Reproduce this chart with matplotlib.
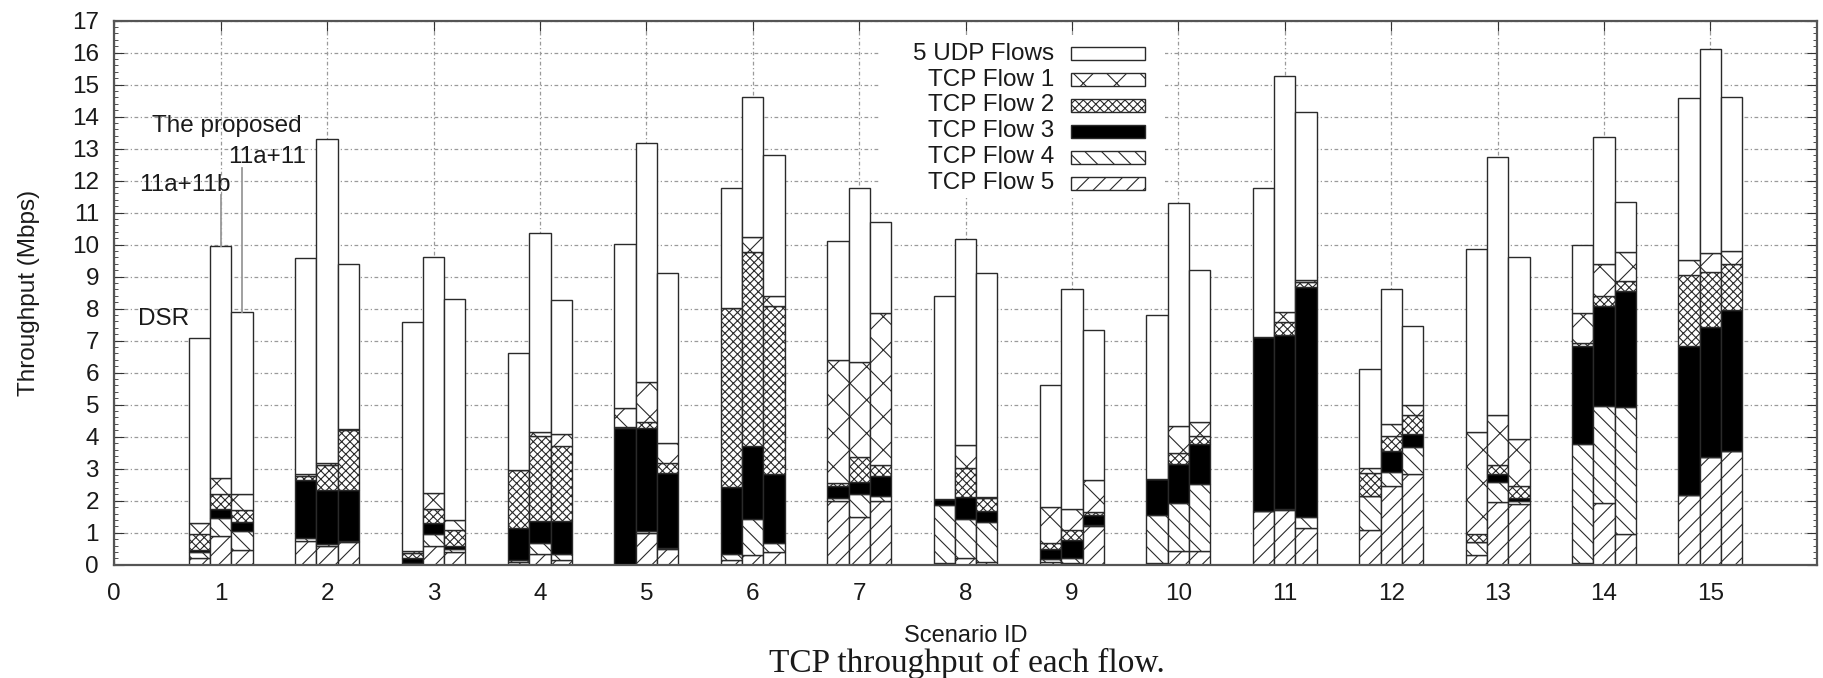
import numpy as np
import matplotlib
matplotlib.use("Agg")
import matplotlib.pyplot as plt
from matplotlib.patches import Rectangle
from matplotlib.ticker import MultipleLocator

plt.rcParams['font.family'] = 'Liberation Sans'
plt.rcParams['hatch.linewidth'] = 0.8

# scenario ids and the three protocols drawn side by side
scenarios = np.arange(1, 16)
protocols = ['DSR', '11a+11b', 'The proposed 11a+11']

# throughput (Mbps) per scenario: [DSR, 11a+11b, proposed]
flow5 = [[0.2, 0.9, 0.45], [0.75, 0.6, 0.7], [0.02, 0.6, 0.4], [0.08, 0.35, 0.15],
         [0.0, 1.0, 0.5], [0.15, 0.3, 0.4], [2.0, 1.5, 2.0], [0.05, 0.2, 0.1],
         [0.1, 0.05, 1.2], [0.05, 0.42, 0.42], [1.68, 1.7, 1.14], [1.08, 2.46, 2.84],
         [0.3, 1.96, 1.9], [0.05, 1.92, 0.96], [2.19, 3.36, 3.56]]
flow4 = [[0.2, 0.55, 0.6], [0.1, 0.05, 0.05], [0.02, 0.35, 0.1], [0.08, 0.33, 0.2],
         [0.0, 0.04, 0.02], [0.17, 1.14, 0.28], [0.1, 0.7, 0.16], [1.83, 1.24, 1.22],
         [0.08, 0.15, 0.04], [1.51, 1.5, 2.1], [0.0, 0.04, 0.36], [1.08, 0.45, 0.84],
         [0.42, 0.64, 0.08], [3.73, 3.03, 3.96], [0.0, 0.0, 0.0]]
flow3 = [[0.05, 0.3, 0.3], [1.8, 1.68, 1.6], [0.18, 0.35, 0.1], [0.98, 0.7, 1.03],
         [4.26, 3.22, 2.36], [2.11, 2.28, 2.16], [0.36, 0.38, 0.6], [0.16, 0.68, 0.36],
         [0.3, 0.58, 0.32], [1.11, 1.23, 1.26], [5.45, 5.45, 7.19], [0.0, 0.63, 0.4],
         [0.0, 0.24, 0.12], [3.05, 3.14, 3.63], [4.64, 4.07, 4.39]]
flow2 = [[0.5, 0.45, 0.35], [0.12, 0.8, 1.85], [0.15, 0.45, 0.5], [1.82, 2.64, 2.34],
         [0.05, 0.2, 0.3], [5.6, 6.05, 5.25], [0.1, 0.8, 0.36], [0.0, 0.91, 0.42],
         [0.2, 0.3, 0.1], [0.0, 0.33, 0.25], [0.0, 0.4, 0.15], [0.7, 0.48, 0.6],
         [0.24, 0.28, 0.36], [0.1, 0.3, 0.3], [2.22, 1.72, 1.46]]
flow1 = [[0.35, 0.5, 0.5], [0.05, 0.05, 0.05], [0.05, 0.5, 0.3], [0.0, 0.14, 0.36],
         [0.6, 1.24, 0.62], [0.0, 0.46, 0.3], [3.85, 2.94, 4.76], [0.0, 0.72, 0.02],
         [1.12, 0.66, 0.98], [0.0, 0.84, 0.44], [0.0, 0.32, 0.06], [0.17, 0.38, 0.3],
         [3.18, 1.56, 1.46], [0.95, 1.02, 0.92], [0.46, 0.6, 0.39]]
udp = [[5.77, 7.25, 5.71], [6.75, 10.11, 5.16], [7.16, 7.37, 6.9], [3.67, 6.21, 4.19],
       [5.1, 7.47, 5.3], [3.74, 4.37, 4.4], [3.71, 5.45, 2.84], [6.35, 6.42, 7.0],
       [3.81, 6.86, 4.69], [5.12, 6.97, 4.73], [4.63, 7.37, 5.25], [3.09, 4.23, 2.47],
       [5.73, 8.05, 5.7], [2.1, 3.96, 1.56], [5.07, 6.38, 4.82]]

legend_labels = ['5 UDP Flows', 'TCP Flow 1', 'TCP Flow 2', 'TCP Flow 3', 'TCP Flow 4', 'TCP Flow 5']

# bottom to top stacking order and look of each series
stack = [flow5, flow4, flow3, flow2, flow1, udp]
faces = ['white', 'white', 'black', 'white', 'white', 'white']
hatches = ['//', '\\\\', None, 'xxxx', 'x', None]

edge = '#2a2a2a'
txt = '#1a1a1a'

fig = plt.figure(figsize=(18.23, 6.78), dpi=100)
ax = fig.add_axes([0.0627, 0.1671, 0.9339, 0.8024])

width = 0.2
offsets = [-0.2, 0.0, 0.2]
totals = np.zeros((len(scenarios), 3))
for j, off in enumerate(offsets):
    bottom = np.zeros(len(scenarios))
    for series, fc, h in zip(stack, faces, hatches):
        vals = np.array(series)[:, j]
        ax.bar(scenarios + off, vals, width, bottom=bottom, color=fc, hatch=h,
               edgecolor=edge, linewidth=1.0, zorder=2)
        bottom = bottom + vals
    totals[:, j] = bottom

ax.set_xlim(0, 16)
ax.set_ylim(0, 17)
ax.set_xticks(range(0, 16))
ax.set_yticks(range(0, 18))
ax.yaxis.set_minor_locator(MultipleLocator(0.2))
ax.tick_params(axis='both', which='both', direction='in', top=True, right=True,
               labelsize=17.5, colors='#333333', labelcolor=txt)
ax.tick_params(axis='y', which='major', length=7, pad=11)
ax.tick_params(axis='y', which='minor', length=3)
ax.tick_params(axis='x', which='major', length=7, pad=13)

ax.set_axisbelow(True)
ax.grid(True, which='major', color='#9a9a9a', linestyle=(0, (3, 2, 1, 2)), linewidth=0.9)
for s in ax.spines.values():
    s.set_color('#555555')
    s.set_linewidth(1.6)

ax.set_ylabel('Throughput (Mbps)', fontsize=17.5, color=txt)
ax.yaxis.set_label_coords(-0.0436, 0.5)
ax.set_xlabel('Scenario ID', fontsize=17, color=txt)
ax.xaxis.set_label_coords(0.5, -0.11)

# protocol labels with leader lines for scenario 1
ax.text(0.351, 13.70, 'The proposed', fontsize=17.5, color=txt, ha='left', va='center')
ax.text(1.80, 12.75, '11a+11', fontsize=17.5, color=txt, ha='right', va='center')
ax.text(0.235, 11.85, '11a+11b', fontsize=17.5, color=txt, ha='left', va='center')
ax.text(0.22, 7.68, 'DSR', fontsize=17.5, color=txt, ha='left', va='center')
ax.plot([scenarios[0] + offsets[1]] * 2, [totals[0, 1], 11.55], color='#999999', lw=1.3, zorder=3)
ax.plot([scenarios[0] + offsets[2]] * 2, [totals[0, 2], 12.4], color='#999999', lw=1.3, zorder=3)

# legend: white block over the grid, labels right-aligned, swatches on the right
ax.add_patch(Rectangle((7.2, 11.45), 2.67, 5.1, facecolor='white', edgecolor='none', zorder=1.5))
order = [5, 4, 3, 2, 1, 0]
for i, k in enumerate(order):
    yc = 15.97 - 0.81 * i
    ax.add_patch(Rectangle((8.99, yc - 0.197), 0.697, 0.394, facecolor=faces[k],
                           hatch=hatches[k], edgecolor=edge, linewidth=1.0, zorder=3))
    ax.text(8.833, yc, legend_labels[i], fontsize=17.5, color=txt, ha='right', va='center')

fig.text(0.5305, 0.021, 'TCP throughput of each flow.', fontsize=24, color=txt,
         family='Liberation Serif', ha='center', va='center')

fig.savefig('out.png', dpi=100)
